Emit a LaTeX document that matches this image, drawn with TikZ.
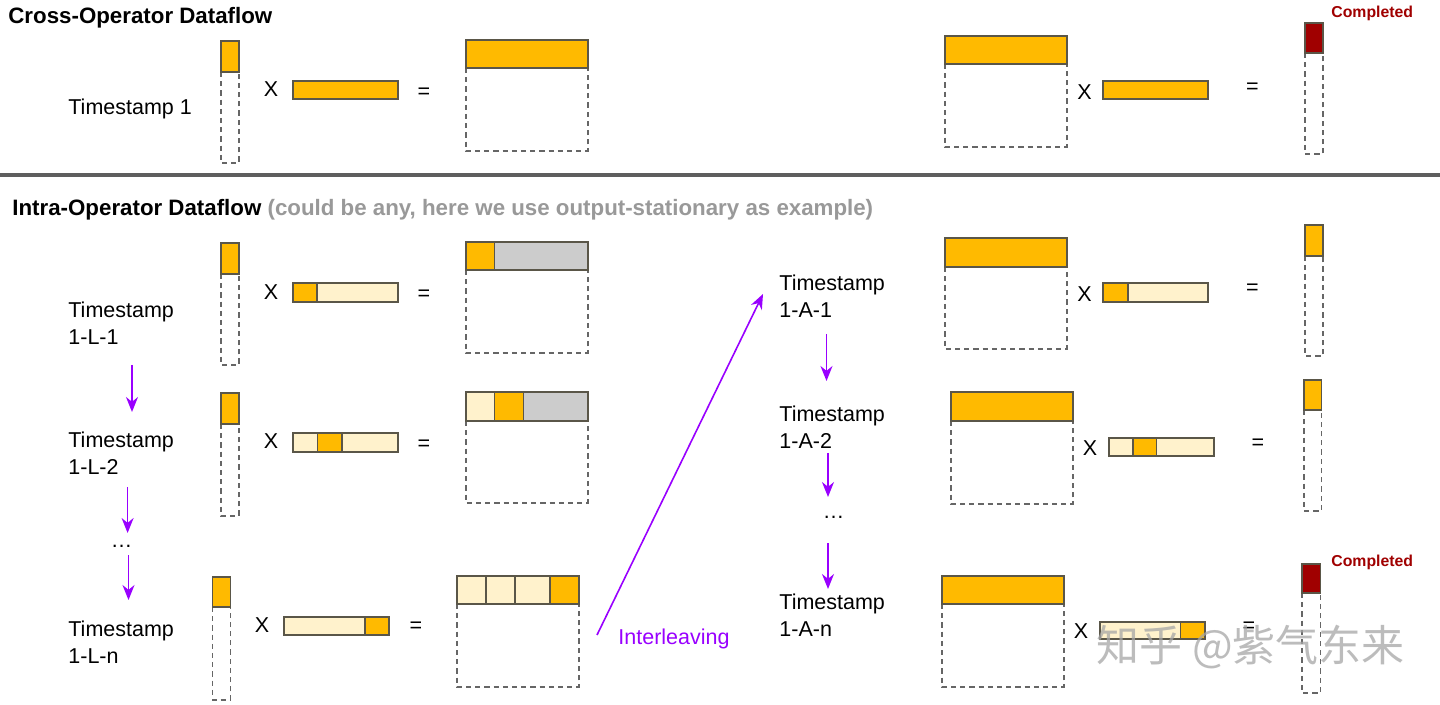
\documentclass[tikz,border=0pt]{standalone}
\usepackage{fontspec}
\setmainfont{Liberation Sans}
\newfontfamily\cjk{Noto Sans CJK SC}
\usetikzlibrary{arrows.meta}
\definecolor{orng}{HTML}{FFBA00}
\definecolor{lite}{HTML}{FFF2CC}
\definecolor{grey}{HTML}{CCCCCC}
\definecolor{dred}{HTML}{A00000}
\definecolor{bordc}{HTML}{5A5648}
\definecolor{dashc}{HTML}{666666}
\definecolor{purp}{HTML}{9900FF}
\definecolor{subg}{HTML}{999999}
\definecolor{sepc}{HTML}{5E5E5E}
\newcommand{\lbf}{\fontsize{10.75}{13.5}\selectfont}
\newcommand{\ttlf}{\fontsize{11.15}{13}\selectfont\bfseries}
\newcommand{\cmpf}{\fontsize{7.9}{10}\selectfont\bfseries}
% column vector: x1 x2 ytop ysplit ybottom colour
\newcommand{\mycol}[6]{%
  \draw[dashline] (#1,#4) -- (#1,#5) -- (#2,#5) -- (#2,#4);
  \filldraw[box, fill=#6] (#1,#3) rectangle (#2,#4);}
% row vector: x1 x2 ytop ybottom ox1 ox2
\newcommand{\myrow}[6]{%
  \fill[lite] (#1,#3) rectangle (#2,#4);
  \fill[orng] (#5,#3) rectangle (#6,#4);
  \draw[box] (#5,#3) -- (#5,#4) (#6,#3) -- (#6,#4);
  \draw[box] (#1,#3) rectangle (#2,#4);}
% matrix frame: x1 x2 ytop ysplit ybottom
\newcommand{\mymat}[5]{%
  \draw[dashline] (#1,#4) -- (#1,#5) -- (#2,#5) -- (#2,#4);}
\begin{document}
\begin{tikzpicture}[x=0.5pt,y=-0.5pt,
  box/.style={draw=bordc, line width=0.75pt},
  dashline/.style={draw=dashc, line width=0.6pt, dash pattern=on 2.6pt off 2pt},
  lbl/.style={font=\lbf, align=left, inner sep=0pt, anchor=west},
  op/.style={font=\lbf, inner sep=0pt},
  ttl/.style={font=\ttlf, inner sep=0pt, anchor=base west},
  cmp/.style={font=\cmpf, text=dred, inner sep=0pt, anchor=base west},
  flow/.style={draw=purp, line width=0.8pt, -{Stealth[length=7.5pt,width=6pt]}},
  sepline/.style={draw=sepc, line width=1.8pt}]
\useasboundingbox (0,0) rectangle (1440,705);
\fill[white] (0,0) rectangle (1440,705);

% ---------- titles ----------
\node[ttl] (t1) at (8,24) {Cross-Operator Dataflow};
\node[ttl] (t2) at (12,216) {Intra-Operator Dataflow \textcolor{subg}{(could be any, here we use output-stationary as example)}};
\draw[sepline] (0,175) -- (1440,175);

% ---------- cross-operator row ----------
\node[lbl, anchor=base west] (ts1) at (68,115) {Timestamp 1};
\mycol{221}{239}{41}{72}{163}{orng}
\node[op] (x1) at (271,89.5) {X};
\myrow{293}{398}{81}{99}{293}{398}
\node[op] (e1) at (424,93) {=};
\mymat{466}{588}{40}{68}{151}
\filldraw[box, fill=orng] (466,40) rectangle (588,68);

\mymat{945}{1067}{36}{64}{147}
\filldraw[box, fill=orng] (945,36) rectangle (1067,64);
\node[op] (x2) at (1084.5,92) {X};
\myrow{1103}{1208}{81}{99}{1103}{1208}
\node[op] (e2) at (1252.5,88) {=};
\mycol{1305}{1323}{23}{53}{154}{dred}
\node[cmp] (c1) at (1331,18) {Completed};

% ---------- intra-operator: L side ----------
\node[lbl] (l1) at (68,323.5) {Timestamp\\1-L-1};
\mycol{221}{239}{243}{274}{365}{orng}
\node[op] (x3) at (271,292.5) {X};
\myrow{293}{398}{283}{302}{293}{317}
\node[op] (e3) at (424,295) {=};
\mymat{466}{588}{242}{270}{353}
\fill[grey] (494.5,242) rectangle (588,270);
\filldraw[box, fill=orng] (466,242) rectangle (494.5,270);
\draw[box] (466,242) rectangle (588,270);

\node[lbl] (l2) at (68,453.5) {Timestamp\\1-L-2};
\mycol{221}{239}{393}{424}{516}{orng}
\node[op] (x4) at (271,441.5) {X};
\myrow{293}{398}{433}{452}{317.7}{342}
\node[op] (e4) at (424,445) {=};
\mymat{466}{588}{392}{421}{503}
\fill[lite] (466,392) rectangle (494.5,421);
\fill[grey] (523.4,392) rectangle (588,421);
\filldraw[box, fill=orng] (494.5,392) rectangle (523.4,421);
\draw[box] (466,392) rectangle (588,421);

\node[op] (ld) at (121.5,546) {…};

\node[lbl] (l3) at (68,642.5) {Timestamp\\1-L-n};
\mycol{212.5}{230.5}{577}{607}{700}{orng}
\node[op] (x5) at (262,625) {X};
\myrow{284}{389}{617}{635}{365}{389}
\node[op] (e5) at (416,627) {=};
\mymat{457}{579}{576}{604}{687}
\filldraw[box, fill=lite] (457,576) rectangle (486,604);
\filldraw[box, fill=lite] (486,576) rectangle (515,604);
\filldraw[box, fill=lite] (515,576) rectangle (550,604);
\filldraw[box, fill=orng] (550,576) rectangle (579,604);

\coordinate (a1s) at (132,365); \coordinate (a1e) at (132,412);
\coordinate (a2s) at (127.6,487); \coordinate (a2e) at (127.6,533);
\coordinate (a3s) at (128.5,555); \coordinate (a3e) at (128.5,600);
\draw[flow] (a1s) -- (a1e);
\draw[flow] (a2s) -- (a2e);
\draw[flow] (a3s) -- (a3e);

% ---------- interleaving ----------
\node[lbl, text=purp] (il) at (618,639) {Interleaving};
\coordinate (is) at (597,635); \coordinate (ie) at (763,294);
\draw[flow] (is) -- (ie);

% ---------- intra-operator: A side ----------
\node[lbl] (r1) at (779,296) {Timestamp\\1-A-1};
\mymat{945}{1067}{238}{267}{349}
\filldraw[box, fill=orng] (945,238) rectangle (1067,267);
\node[op] (x6) at (1084.5,294.5) {X};
\myrow{1103}{1208}{283}{302}{1103}{1128}
\node[op] (e6) at (1252.5,289) {=};
\mycol{1305}{1323}{225}{256}{356}{orng}

\node[lbl] (r2) at (779,427.5) {Timestamp\\1-A-2};
\mymat{951}{1073}{392}{421}{504}
\filldraw[box, fill=orng] (951,392) rectangle (1073,421);
\node[op] (x7) at (1090,448.5) {X};
\myrow{1109}{1214}{438}{456}{1133}{1156.6}
\node[op] (e7) at (1258,444) {=};
\mycol{1304}{1321.5}{380}{410}{511}{orng}

\node[op] (rd) at (833.5,517) {…};

\node[lbl] (r3) at (779,615) {Timestamp\\1-A-n};
\mymat{942}{1064}{576}{604}{687}
\filldraw[box, fill=orng] (942,576) rectangle (1064,604);
\node[op] (x8) at (1081,631.5) {X};
\myrow{1100}{1205}{622}{639}{1180.5}{1205}
\node[op] (e8) at (1249,627) {=};
\mycol{1302}{1320.5}{564}{593}{693}{dred}
\node[cmp] (c2) at (1331,566) {Completed};

\coordinate (b1s) at (826.5,334); \coordinate (b1e) at (826.5,381);
\coordinate (b2s) at (828,453); \coordinate (b2e) at (828,497);
\coordinate (b3s) at (828,543); \coordinate (b3e) at (828,589);
\draw[flow] (b1s) -- (b1e);
\draw[flow] (b2s) -- (b2e);
\draw[flow] (b3s) -- (b3e);

% ---------- watermark ----------
\node[font=\cjk\fontsize{21.5}{26}\selectfont, text=black!35, opacity=0.75, anchor=west, inner sep=0pt] (wm) at (1096,647) {知乎 @紫气东来};
\end{tikzpicture}
\end{document}
